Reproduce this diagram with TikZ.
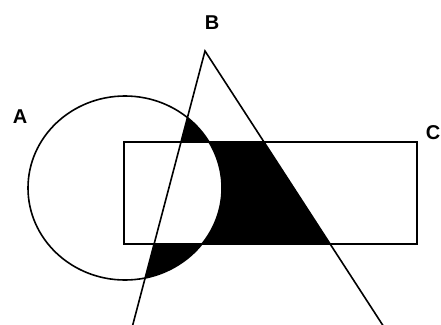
\documentclass[tikz,border=0pt]{standalone}
\usepackage{fontspec}
\setmainfont{Liberation Sans}
\usetikzlibrary{calc}
\begin{document}
\begin{tikzpicture}[x=1pt,y=-1pt,
  outline/.style={draw=black,line width=1.6pt},
  setlabel/.style={font=\bfseries\fontsize{20}{24}\selectfont,inner sep=0pt}]
\useasboundingbox (0,0) rectangle (441,324);
\clip (0,0) rectangle (441,324);
\coordinate (apex) at (205,51);
\coordinate (bl) at (133,324);
\coordinate (br) at (382,324);
% shaded region: inside triangle and in exactly one of ellipse, rectangle
\begin{scope}
  \clip (apex) -- ($(apex)!1.05!(bl)$) -- ($(apex)!1.05!(br)$) -- cycle;
  \fill[black,even odd rule] (125,188) ellipse [x radius=97, y radius=92]
    (124,142) rectangle (417,244);
\end{scope}
\draw[outline] (125,188) ellipse [x radius=97, y radius=92];
\draw[outline] (124,142) rectangle (417,244);
\draw[outline] ($(apex)!1.05!(bl)$) -- (apex) -- ($(apex)!1.05!(br)$);
\node[setlabel] (A) at (20,117) {A};
\node[setlabel] (B) at (212,23) {B};
\node[setlabel] (C) at (433,133) {C};
\end{tikzpicture}
\end{document}
